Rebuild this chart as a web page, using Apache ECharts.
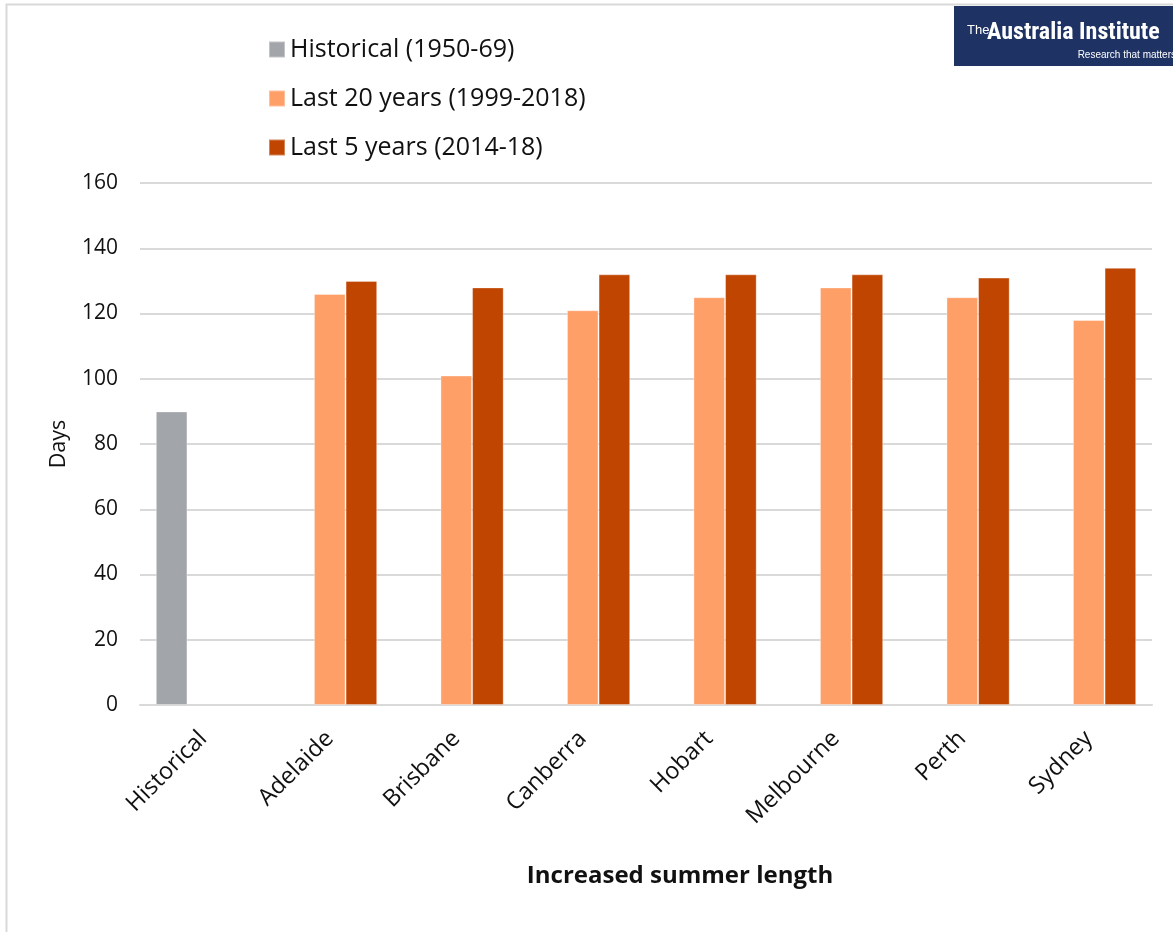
<!DOCTYPE html>
<html>
<head>
<meta charset="utf-8">
<script src="https://cdn.jsdelivr.net/npm/echarts@6/dist/echarts.min.js"></script>
<style>
  html, body { margin: 0; padding: 0; background: #fff; }
  #chart { width: 1173px; height: 932px; }
</style>
</head>
<body>
<div id="chart"></div>
<script>
// Categories along the x axis
const categories = ['Historical', 'Adelaide', 'Brisbane', 'Canberra', 'Hobart', 'Melbourne', 'Perth', 'Sydney'];

// Summer length in days
const historical = [90, null, null, null, null, null, null, null];
const last20Years = [null, 126, 101, 121, 125, 128, 125, 118];
const last5Years = [null, 130, 128, 132, 132, 132, 131, 134];

const seriesNames = ['Historical (1950-69)', 'Last 20 years (1999-2018)', 'Last 5 years (2014-18)'];
const seriesColors = ['#A2A5A9', '#FF9F68', '#BF4500'];

const FONT = '"Open Sans", "Noto Sans", sans-serif';

const chart = echarts.init(document.getElementById('chart'));

const barStyle = (color) => ({
  color: color,
  borderColor: 'rgba(255,255,255,0.35)',
  borderWidth: 1
});

chart.setOption({
  animation: false,
  textStyle: { fontFamily: FONT },
  grid: { left: 140, right: 21, top: 183, bottom: 227, containLabel: false },
  legend: {
    orient: 'vertical',
    left: 263,
    top: 32,
    itemWidth: 16,
    itemHeight: 16,
    itemGap: 24,
    icon: 'rect',
    textStyle: { fontSize: 25, color: '#111', fontFamily: FONT, padding: [0, 0, 0, 0] },
    data: seriesNames
  },
  xAxis: {
    type: 'category',
    data: categories,
    name: 'Increased summer length',
    nameLocation: 'middle',
    nameGap: 159,
    nameTextStyle: { fontSize: 24, fontWeight: 'bold', color: '#111', fontFamily: FONT, padding: [0, 0, 0, 68] },
    axisLine: { lineStyle: { color: '#D9D9D9', width: 2 } },
    axisTick: { show: false },
    axisLabel: { rotate: 45, fontSize: 23.5, color: '#111', margin: 30, interval: 0 }
  },
  yAxis: {
    type: 'value',
    min: 0,
    max: 160,
    interval: 20,
    name: 'Days',
    nameLocation: 'middle',
    nameGap: 70,
    nameRotate: 90,
    nameTextStyle: { fontSize: 21.5, color: '#111', fontFamily: FONT },
    axisLine: { show: false },
    axisTick: { show: false },
    axisLabel: { fontSize: 21, color: '#111', margin: 22 },
    splitLine: { lineStyle: { color: '#D9D9D9', width: 2 } }
  },
  series: [
    { name: seriesNames[0], type: 'bar', data: historical, itemStyle: barStyle(seriesColors[0]), barGap: '0%', barCategoryGap: '25%' },
    { name: seriesNames[1], type: 'bar', data: last20Years, itemStyle: barStyle(seriesColors[1]), barGap: '0%', barCategoryGap: '25%' },
    { name: seriesNames[2], type: 'bar', data: last5Years, itemStyle: barStyle(seriesColors[2]), barGap: '0%', barCategoryGap: '25%' }
  ],
  graphic: [
    // chart frame
    {
      type: 'rect',
      shape: { x: 6.5, y: 4.5, width: 1200, height: 1000 },
      style: { fill: 'none', stroke: '#D9D9D9', lineWidth: 2 },
      silent: true
    },
    // publisher badge
    {
      type: 'group',
      left: 954,
      top: 6,
      children: [
        { type: 'rect', shape: { x: 0, y: 0, width: 219, height: 60 }, style: { fill: '#1E3264' } },
        { type: 'text', style: { x: 13, y: 24, text: 'The', fill: '#fff', font: '13px "Liberation Sans Narrow", "Liberation Sans", sans-serif', textVerticalAlign: 'middle' } },
        { type: 'text', style: { x: 33, y: 27, text: 'Australia Institute', fill: '#fff', font: 'bold 24px "Liberation Sans Narrow", "Roboto Condensed", "Liberation Sans", sans-serif', textVerticalAlign: 'middle' } },
        { type: 'text', style: { x: 222, y: 49, text: 'Research that matters', fill: '#fff', font: '10px "Liberation Sans Narrow", "Liberation Sans", sans-serif', textAlign: 'right', textVerticalAlign: 'middle' } }
      ]
    }
  ]
});
</script>
</body>
</html>
